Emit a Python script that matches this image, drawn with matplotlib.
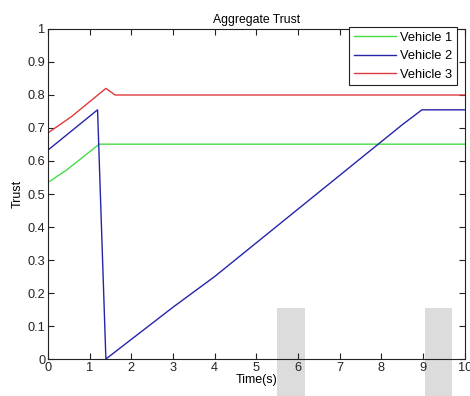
import matplotlib
matplotlib.use("Agg")
import matplotlib.pyplot as plt
from matplotlib.patches import Rectangle

plt.rcParams['font.family'] = ['Liberation Sans', 'DejaVu Sans']

# Vehicle 1
t1 = [0, 0.45, 1.23, 10]
v1 = [0.535, 0.573, 0.651, 0.651]
# Vehicle 2
t2 = [0, 1.19, 1.39, 3.0, 4.0, 8.5, 8.97, 10]
v2 = [0.633, 0.755, 0.0, 0.157, 0.25, 0.71, 0.755, 0.755]
# Vehicle 3
t3 = [0, 0.57, 1.39, 1.61, 10]
v3 = [0.685, 0.735, 0.82, 0.80, 0.80]

labels = ["Vehicle 1", "Vehicle 2", "Vehicle 3"]

fig = plt.figure(figsize=(4.7, 3.96), dpi=100)
ax = fig.add_axes([0.102, 0.0934, 0.887, 0.8334])

ax.plot(t1, v1, color='#44dd44', lw=1.0, label=labels[0])
ax.plot(t2, v2, color='#2525aa', lw=1.0, label=labels[1])
ax.plot(t3, v3, color='#dd3a3a', lw=1.0, label=labels[2])

# grey blocks at the bottom of the picture
for x0, x1 in [(5.49, 6.16), (9.04, 9.69)]:
    ax.add_patch(Rectangle((x0, -0.2), x1 - x0, 0.355, facecolor='#dcdcdc',
                           edgecolor='none', clip_on=False, zorder=0.5))

ax.set_xlim(0, 10)
ax.set_ylim(0, 1)
ax.set_xticks(range(0, 11))
ax.set_yticks([i / 10 for i in range(11)])
ax.set_yticklabels(['0', '0.1', '0.2', '0.3', '0.4', '0.5', '0.6', '0.7', '0.8', '0.9', '1'])
ax.tick_params(direction='in', top=True, right=True, length=4, width=0.8,
               labelsize=9.2, colors='#222222', pad=2)
for s in ax.spines.values():
    s.set_color('#222222')
    s.set_linewidth(0.8)

ax.set_title("Aggregate Trust", fontsize=8.8, pad=4)
ax.set_xlabel("Time(s)", fontsize=9, labelpad=0)
ax.set_ylabel("Trust", fontsize=9, labelpad=3)

leg = ax.legend(loc='upper right', bbox_to_anchor=(0.981, 1.006), fontsize=9.3,
                fancybox=False, framealpha=1, edgecolor='#222222',
                handlelength=3.3, handletextpad=0.3, labelspacing=0.5,
                borderpad=0.35, borderaxespad=0)
leg.get_frame().set_linewidth(0.8)

fig.savefig("out.png", dpi=100)
